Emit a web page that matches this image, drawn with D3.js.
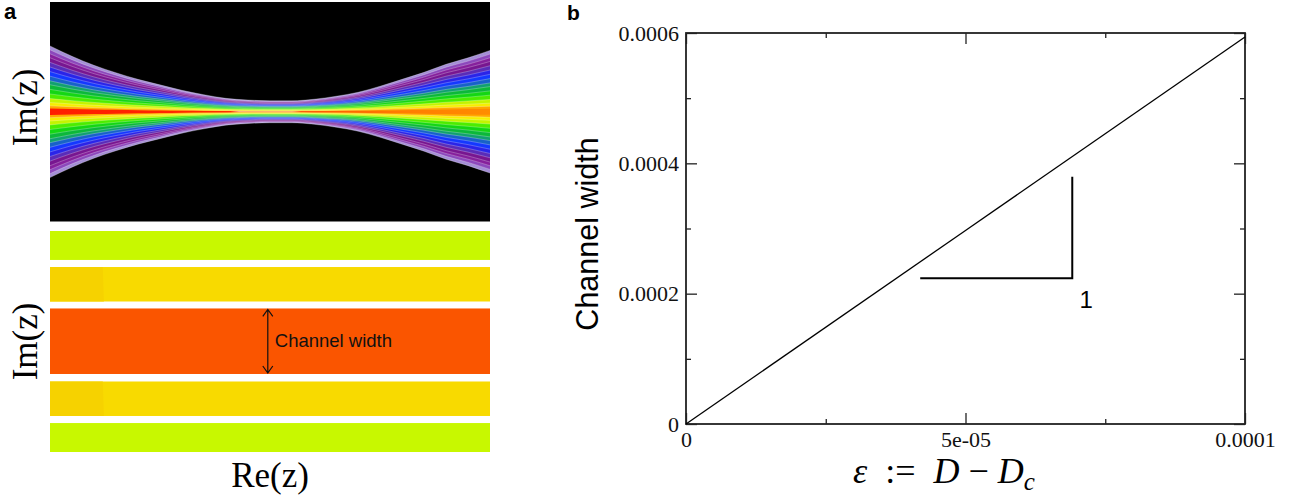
<!DOCTYPE html>
<html>
<head>
<meta charset="utf-8">
<script src="https://cdn.jsdelivr.net/npm/d3@7"></script>
<style>
  body { margin: 0; background: #fff; }
  svg { display: block; }
</style>
</head>
<body>
<svg id="fig" width="1309" height="499"></svg>
<script>
// ---- panel a: channel contour map (top) ----
const reSamples = [-1, -0.9, -0.8, -0.7, -0.6, -0.5, -0.4, -0.3, -0.2, -0.1, 0,
                   0.1, 0.2, 0.3, 0.4, 0.5, 0.6, 0.7, 0.8, 0.9, 1];
// half width of the coloured region, in Im(z) units
const edgeHalfWidth = [0.60, 0.505, 0.423, 0.355, 0.295, 0.245, 0.195, 0.155, 0.122, 0.107, 0.10,
                       0.10, 0.114, 0.141, 0.177, 0.232, 0.295, 0.359, 0.432, 0.491, 0.559];
// contour levels as a fraction of the half width, outer to inner
const contourLevels = [1.0, 0.94, 0.88, 0.82, 0.75, 0.68, 0.61, 0.54,
                       0.47, 0.41, 0.34, 0.27, 0.2, 0.14, 0.09, 0.05];
const contourColors = ["#a48ed6", "#8c48bc", "#86209c", "#781690", "#5a2cb8", "#2a24e8",
                       "#1438ff", "#1862c8", "#12a070", "#0cb83a", "#14d614", "#4cec00",
                       "#c4f400", "#f6ee00", "#ffa800", "url(#coreGrad)"];

// ---- panel a: stripes (bottom) ----
const stripeLo = [0.738, 0.362, -0.294, -0.674, -1.0];
const stripeHi = [1.0, 0.674, 0.299, -0.362, -0.738];
const stripeColors = ["#c8f800", "#f8da00", "#fa5500", "#f8da00", "#c8f800"];
const channelArrowRe = -0.01;

// ---- panel b ----
const epsilon = [0, 5e-5, 1e-4];
const channelWidth = [0, 2.97e-4, 5.94e-4];
const xMajor = [0, 5e-5, 1e-4];
const xMinor = [2.5e-5, 7.5e-5];
const yMajor = [0, 2e-4, 4e-4, 6e-4];
const yMinor = [1e-4, 3e-4, 5e-4];
const xTickLabels = ["0", "5e-05", "0.0001"];
const yTickLabels = ["0", "0.0002", "0.0004", "0.0006"];
const slopeTriangle = [[4.19e-5, 2.236e-4], [6.91e-5, 2.236e-4], [6.91e-5, 3.795e-4]];

const svg = d3.select("#fig");
const serif = "'Liberation Serif', 'DejaVu Serif', serif";
const sans = "'Liberation Sans', Arial, sans-serif";

const defs = svg.append("defs");
const grad = defs.append("linearGradient")
  .attr("id", "coreGrad").attr("x1", 0).attr("x2", 1).attr("y1", 0).attr("y2", 0);
[[0, "#ff1e00"], [0.41, "#ff2a00"], [0.43, "#ffb080"], [0.55, "#ffb080"],
 [0.57, "#ff5000"], [0.78, "#ff7a00"], [1, "#ff8c00"]]
  .forEach(([o, c]) => grad.append("stop").attr("offset", o).attr("stop-color", c));

// scales for panel a
const reX = d3.scaleLinear([-1, 1], [50, 490]);
const imTop = d3.scaleLinear([-1, 1], [221.5, 2]);
const imBot = d3.scaleLinear([-1, 1], [452, 231]);

const edge = reSamples.map((r, i) => ({ re: r, h: edgeHalfWidth[i] }));

// black background
svg.append("rect")
  .attr("x", reX(-1)).attr("y", imTop(1))
  .attr("width", reX(1) - reX(-1)).attr("height", imTop(-1) - imTop(1))
  .attr("fill", "#000");

const bands = svg.append("g");
contourLevels.forEach((f, k) => {
  const area = d3.area()
    .x(d => reX(d.re))
    .y0(d => imTop(-f * d.h))
    .y1(d => imTop(f * d.h))
    .curve(d3.curveMonotoneX);
  bands.append("path")
    .attr("d", area(edge))
    .attr("fill", contourColors[k]);
});

// thin white contour lines
const seps = svg.append("g")
  .attr("fill", "none").attr("stroke", "#fff")
  .attr("stroke-opacity", 0.45).attr("stroke-width", 0.6);
contourLevels.slice(0, -1).forEach(f => {
  [1, -1].forEach(s => {
    const line = d3.line()
      .x(d => reX(d.re))
      .y(d => imTop(s * f * d.h))
      .curve(d3.curveMonotoneX);
    seps.append("path").attr("d", line(edge));
  });
});

// stripes
svg.append("g").selectAll("rect")
  .data(stripeLo)
  .join("rect")
  .attr("x", reX(-1))
  .attr("width", reX(1) - reX(-1))
  .attr("y", (d, i) => imBot(stripeHi[i]))
  .attr("height", (d, i) => imBot(stripeLo[i]) - imBot(stripeHi[i]))
  .attr("fill", (d, i) => stripeColors[i]);

// slightly darker patch at the left of the yellow stripes
[1, 3].forEach(i => {
  svg.append("path")
    .attr("d", `M${reX(-1)},${imBot(stripeHi[i])} L${reX(-0.76)},${imBot(stripeHi[i])}
                L${reX(-0.755)},${imBot(stripeLo[i])} L${reX(-1)},${imBot(stripeLo[i])}Z`)
    .attr("fill", "#f6d200");
});

// channel width arrow
const ax = reX(channelArrowRe);
const ya = imBot(stripeHi[2]) + 1, yb = imBot(stripeLo[2]) - 1;
svg.append("path")
  .attr("d", `M${ax},${ya} V${yb} M${ax - 5},${ya + 7} L${ax},${ya} L${ax + 5},${ya + 7}
              M${ax - 5},${yb - 7} L${ax},${yb} L${ax + 5},${yb - 7}`)
  .attr("fill", "none").attr("stroke", "#111").attr("stroke-width", 1.2);
svg.append("text")
  .attr("x", ax + 7).attr("y", (ya + yb) / 2 + 6)
  .attr("font-family", sans).attr("font-size", 18.5).attr("fill", "#111")
  .text("Channel width");

// panel a labels
svg.append("text").attr("x", 4).attr("y", 19)
  .attr("font-family", sans).attr("font-weight", "bold").attr("font-size", 22)
  .text("a");
[[imTop(0.04), "Im(z)"], [imBot(0), "Im(z)"]].forEach(([cy, t]) => {
  svg.append("text")
    .attr("transform", `translate(37,${cy}) rotate(-90)`)
    .attr("text-anchor", "middle")
    .attr("font-family", serif).attr("font-size", 35)
    .text(t);
});
svg.append("text").attr("x", reX(0)).attr("y", 487)
  .attr("text-anchor", "middle")
  .attr("font-family", serif).attr("font-size", 35)
  .text("Re(z)");

// ---- panel b ----
const x = d3.scaleLinear([0, 1e-4], [686, 1245]);
const y = d3.scaleLinear([0, 6e-4], [424, 33]);

function tickAxis(axisFn, scale, vals, size, labels, pad) {
  return axisFn(scale).tickValues(vals).tickSizeInner(-size).tickSizeOuter(0)
    .tickPadding(pad || 0)
    .tickFormat(labels ? (d, i) => labels[i] : () => "");
}
function styleAxis(g) {
  g.attr("font-family", serif).attr("font-size", 22);
  g.select(".domain").remove();
  g.selectAll("line").attr("stroke", "#222").attr("stroke-width", 1.3);
  g.selectAll("text").attr("fill", "#111");
}

const gB = svg.append("g");
gB.append("g").attr("transform", "translate(0,424)")
  .call(tickAxis(d3.axisBottom, x, xMajor, 11, xTickLabels, 7)).call(styleAxis);
gB.append("g").attr("transform", "translate(0,424)")
  .call(tickAxis(d3.axisBottom, x, xMinor, 5)).call(styleAxis);
gB.append("g").attr("transform", "translate(0,33)")
  .call(tickAxis(d3.axisTop, x, xMajor, 11)).call(styleAxis);
gB.append("g").attr("transform", "translate(0,33)")
  .call(tickAxis(d3.axisTop, x, xMinor, 5)).call(styleAxis);
gB.append("g").attr("transform", "translate(686,0)")
  .call(tickAxis(d3.axisLeft, y, yMajor, 11, yTickLabels, 7)).call(styleAxis);
gB.append("g").attr("transform", "translate(686,0)")
  .call(tickAxis(d3.axisLeft, y, yMinor, 5)).call(styleAxis);
gB.append("g").attr("transform", "translate(1245,0)")
  .call(tickAxis(d3.axisRight, y, yMajor, 11)).call(styleAxis);
gB.append("g").attr("transform", "translate(1245,0)")
  .call(tickAxis(d3.axisRight, y, yMinor, 5)).call(styleAxis);

// frame
gB.append("rect")
  .attr("x", x(0)).attr("y", y(6e-4))
  .attr("width", x(1e-4) - x(0)).attr("height", y(0) - y(6e-4))
  .attr("fill", "none").attr("stroke", "#222").attr("stroke-width", 1.8);

// data line
gB.append("path")
  .datum(epsilon.map((e, i) => [e, channelWidth[i]]))
  .attr("d", d3.line().x(d => x(d[0])).y(d => y(d[1])))
  .attr("fill", "none").attr("stroke", "#000").attr("stroke-width", 1.3);

// slope triangle
gB.append("path")
  .datum(slopeTriangle)
  .attr("d", d3.line().x(d => x(d[0])).y(d => y(d[1])))
  .attr("fill", "none").attr("stroke", "#000").attr("stroke-width", 2);
gB.append("text")
  .attr("x", x(slopeTriangle[1][0]) + 14).attr("y", y(slopeTriangle[1][1]) + 30)
  .attr("text-anchor", "middle")
  .attr("font-family", sans).attr("font-size", 24)
  .text("1");

// axis titles
gB.append("text")
  .attr("transform", "translate(598,234) rotate(-90)")
  .attr("text-anchor", "middle")
  .attr("font-family", sans).attr("font-size", 30.5)
  .text("Channel width");

const xt = gB.append("text")
  .attr("x", 944).attr("y", 483)
  .attr("text-anchor", "middle")
  .attr("font-family", serif).attr("font-size", 36)
  .attr("xml:space", "preserve");
xt.append("tspan").attr("font-style", "italic").text("ε");
xt.append("tspan").text("  :=  ");
xt.append("tspan").attr("font-style", "italic").text("D");
xt.append("tspan").text(" \u2212 ");
xt.append("tspan").attr("font-style", "italic").text("D");
xt.append("tspan").attr("font-style", "italic").attr("font-size", 25).attr("dy", 7).text("c");

svg.append("text").attr("x", 567).attr("y", 20)
  .attr("font-family", sans).attr("font-weight", "bold").attr("font-size", 21)
  .text("b");
</script>
</body>
</html>
